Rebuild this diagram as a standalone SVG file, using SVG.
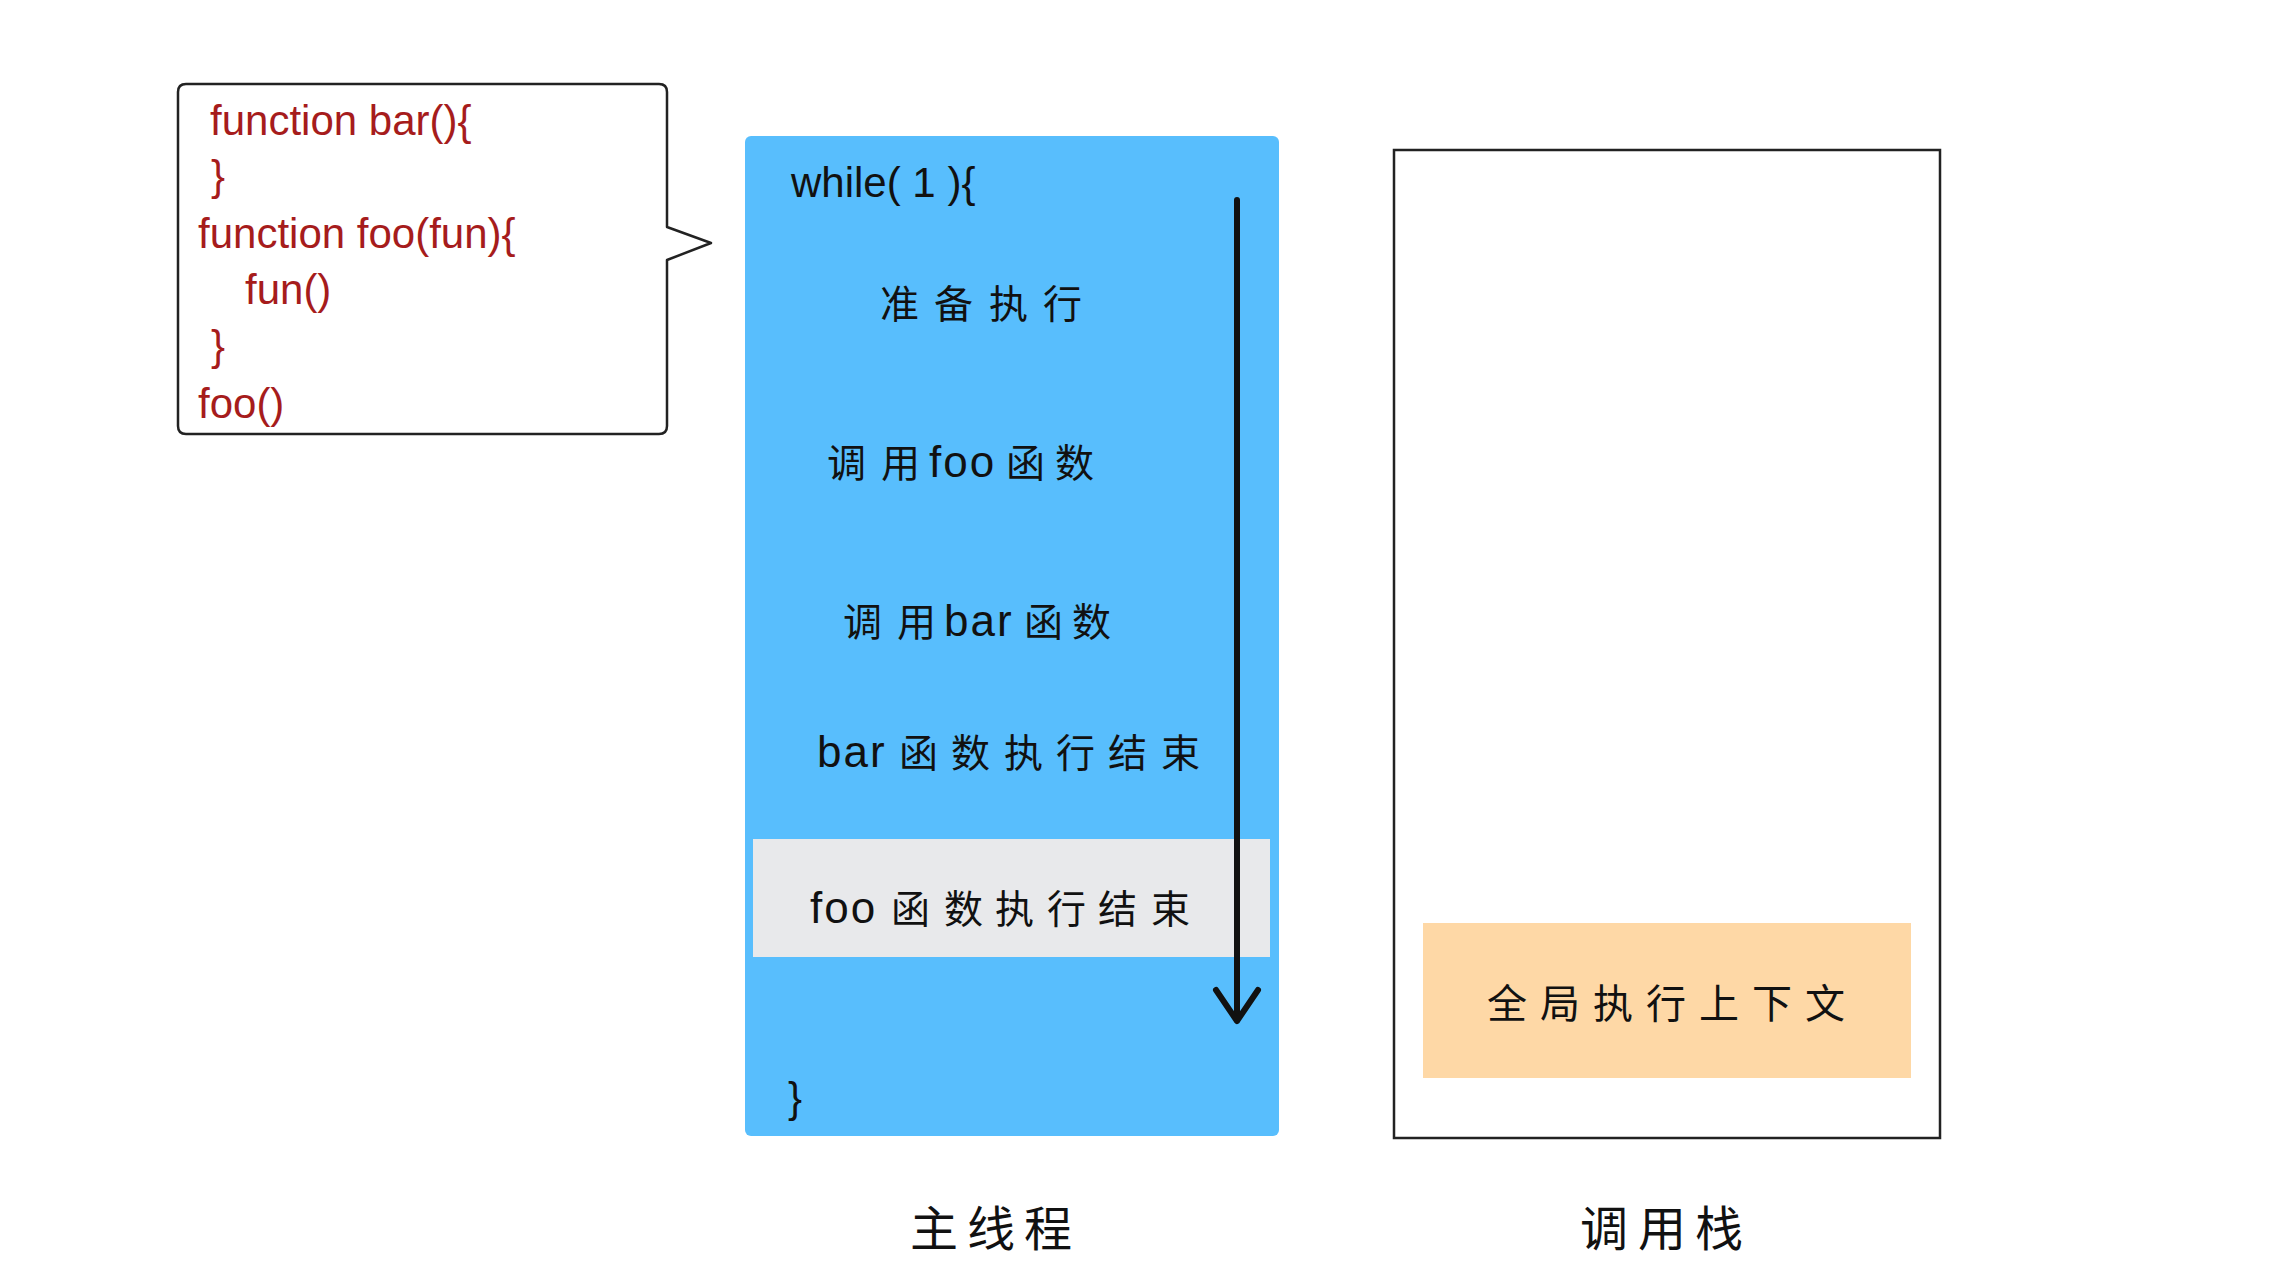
<svg xmlns="http://www.w3.org/2000/svg" width="2284" height="1285" viewBox="0 0 2284 1285">
  <style>
    .code { font-family: "Liberation Sans", "DejaVu Sans", sans-serif; font-size: 42px; fill: #a61c1c; }
    .mono { font-family: "Liberation Sans", "DejaVu Sans", sans-serif; font-size: 42px; fill: #111111; }
    .cjk { font-family: "Noto Sans CJK SC", "Noto Sans", sans-serif; font-size: 39px; fill: #111111; }
    .lat { font-family: "Liberation Sans", "DejaVu Sans", sans-serif; font-size: 44px; letter-spacing: 2px; }
    .cap { font-family: "Noto Sans CJK SC", "Noto Sans", sans-serif; font-size: 48px; fill: #111111; }
    .outline { fill: #ffffff; stroke: #222222; stroke-width: 2.5; }
  </style>
  <rect width="2284" height="1285" fill="#ffffff"/>

  <g id="code-callout">
    <path d="M186 84 H659 Q667 84 667 92 V227 L711 243 L667 260 V426 Q667 434 659 434 H186 Q178 434 178 426 V92 Q178 84 186 84 Z" fill="#ffffff" stroke="#222222" stroke-width="2.5" stroke-linejoin="round"/>
    <text class="code" x="210" y="135">function bar(){</text>
    <text class="code" x="211" y="190">}</text>
    <text class="code" x="198" y="248">function foo(fun){</text>
    <text class="code" x="245" y="304">fun()</text>
    <text class="code" x="211" y="360">}</text>
    <text class="code" x="198" y="418">foo()</text>
  </g>

  <g id="main-thread">
    <rect x="745" y="136" width="534" height="1000" rx="6" fill="#58befd"/>
    <rect x="753" y="839" width="517" height="118" fill="#e8e9eb"/>
    <text class="mono" x="791" y="197">while( 1 ){</text>
    <text class="cjk" y="318" x="880 934 989 1043">准备执行</text>
    <text class="cjk" y="477"><tspan x="827">调</tspan><tspan x="881">用</tspan><tspan x="929" class="lat">foo</tspan><tspan x="1006">函</tspan><tspan x="1055">数</tspan></text>
    <text class="cjk" y="636"><tspan x="843">调</tspan><tspan x="897">用</tspan><tspan x="944" class="lat">bar</tspan><tspan x="1024">函</tspan><tspan x="1072">数</tspan></text>
    <text class="cjk" y="767"><tspan x="817" class="lat">bar</tspan><tspan x="899">函</tspan><tspan x="951">数</tspan><tspan x="1004">执</tspan><tspan x="1056">行</tspan><tspan x="1108">结</tspan><tspan x="1161">束</tspan></text>
    <text class="cjk" y="923"><tspan x="810" class="lat">foo</tspan><tspan x="891">函</tspan><tspan x="944">数</tspan><tspan x="995">执</tspan><tspan x="1047">行</tspan><tspan x="1098">结</tspan><tspan x="1151">束</tspan></text>
    <text class="mono" x="788" y="1112">}</text>
  </g>

  <g id="call-stack">
    <rect class="outline" x="1394" y="150" width="546" height="988"/>
    <rect x="1423" y="923" width="488" height="155" fill="#fed8a6"/>
    <text class="cjk" y="1018" x="1487 1540 1593 1646 1699 1752 1805" style="font-size:40px">全局执行上下文</text>
  </g>

  <g id="labels">
    <text class="cap" y="1246" x="910 967 1024">主线程</text>
    <text class="cap" y="1246" x="1580 1638 1695">调用栈</text>
  </g>

  <g id="connectors">
    <line x1="1237" y1="200" x2="1237" y2="1020" stroke="#111111" stroke-width="6" stroke-linecap="round"/>
    <path d="M1216 990 L1237 1021 L1258 990" fill="none" stroke="#111111" stroke-width="6" stroke-linecap="round" stroke-linejoin="round"/>
  </g>
</svg>
